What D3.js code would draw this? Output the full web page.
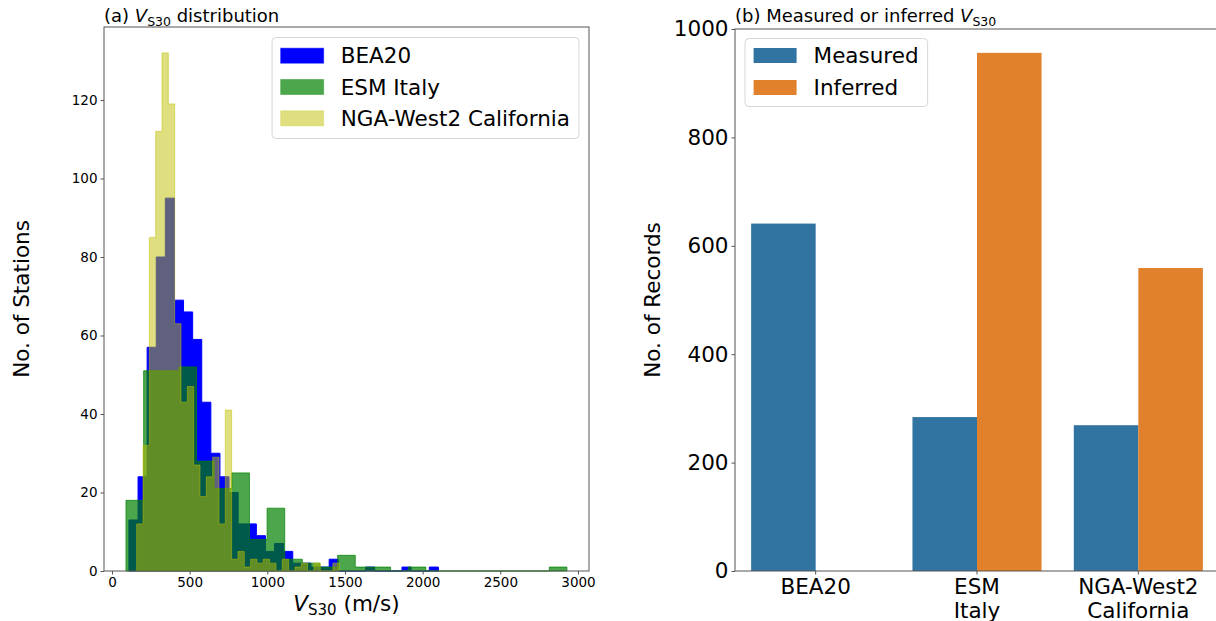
<!DOCTYPE html>
<html>
<head>
  <meta charset="utf-8">
  <script src="https://d3js.org/d3.v7.min.js"></script>
  <style>
    body { margin: 0; background: #fff; }
    svg text { font-family: "DejaVu Sans", sans-serif; fill: #000; }
  </style>
</head>
<body>
<div id="chart"></div>
<script>
  // (a) histograms: first bin edge, bin width, counts per bin
  var bea20Start = 109, bea20Width = 58.6;
  var bea20Counts = [13, 24, 57, 80, 95, 69, 66, 59, 43, 30, 24, 20, 12, 12, 9, 5, 7, 5,
                     2, 2, 1, 1, 3, 0, 0, 0, 1, 0, 0, 0, 1, 0, 0, 1];
  var esmStart = 90, esmWidth = 113.56;
  var esmCounts = [18, 51, 51, 52, 28, 21, 25, 8, 16, 3, 2, 1, 4, 1, 1, 0, 1,
                   0, 0, 0, 0, 0, 0, 0, 1];
  var ngaStart = 159, ngaWidth = 40.75;
  var ngaCounts = [12, 32, 85, 112, 132, 119, 63, 43, 47, 27, 19, 24, 29, 12, 41, 3,
                   5, 1, 3, 2, 3, 2, 0, 3, 0, 1, 2, 0, 2, 0, 0, 2];
  var histNames = ["BEA20", "ESM Italy", "NGA-West2 California"];
  var xTicksA = [0, 500, 1000, 1500, 2000, 2500, 3000];
  var yTicksA = [0, 20, 40, 60, 80, 100, 120];

  // (b) bar chart
  var groups = [["BEA20"], ["ESM", "Italy"], ["NGA-West2", "California"]];
  var measured = [641, 284, 269];
  var inferred = [0, 956, 559];
  var yTicksB = [0, 200, 400, 600, 800, 1000];

  var width = 1216, height = 621;
  var svg = d3.select("#chart").append("svg")
              .attr("width", width)
              .attr("height", height);

  var axisColor = "#555";
  var fmt = d3.format("d");

  // ---------- panel (a) ----------
  var A = {left: 104, right: 589, top: 27, bottom: 571};
  var xA = d3.scaleLinear().domain([-51.5, 3071]).range([A.left, A.right]);
  var yA = d3.scaleLinear().domain([0, 138.6]).range([A.bottom, A.top]);

  function stepPath(start, w, counts) {
    var p = d3.path();
    p.moveTo(xA(start), yA(0));
    counts.forEach(function(c, i) {
      p.lineTo(xA(start + i * w), yA(c));
      p.lineTo(xA(start + (i + 1) * w), yA(c));
    });
    p.lineTo(xA(start + counts.length * w), yA(0));
    p.closePath();
    return p.toString();
  }

  var histStyles = [
    {color: "#0000ff", alpha: 1.0},
    {color: "#008000", alpha: 0.7},
    {color: "#bfbf00", alpha: 0.5}
  ];
  var histData = [
    stepPath(bea20Start, bea20Width, bea20Counts),
    stepPath(esmStart, esmWidth, esmCounts),
    stepPath(ngaStart, ngaWidth, ngaCounts)
  ];

  var gA = svg.append("g");
  gA.selectAll("path.hist")
    .data(histData)
    .enter()
    .append("path")
    .attr("class", "hist")
    .attr("d", function(d) { return d; })
    .attr("fill", function(d, i) { return histStyles[i].color; })
    .attr("fill-opacity", function(d, i) { return histStyles[i].alpha; })
    .attr("stroke", function(d, i) { return histStyles[i].color; })
    .attr("stroke-opacity", function(d, i) { return histStyles[i].alpha; })
    .attr("stroke-width", 1);

  gA.append("rect")
    .attr("x", A.left).attr("y", A.top)
    .attr("width", A.right - A.left).attr("height", A.bottom - A.top)
    .attr("fill", "none").attr("stroke", axisColor).attr("stroke-width", 1);

  var xAxisA = d3.axisBottom(xA).tickValues(xTicksA).tickFormat(fmt).tickSize(3.5).tickPadding(3).tickSizeOuter(0);
  var yAxisA = d3.axisLeft(yA).tickValues(yTicksA).tickFormat(fmt).tickSize(3.5).tickPadding(3).tickSizeOuter(0);
  var gxA = gA.append("g").attr("transform", "translate(0," + A.bottom + ")").call(xAxisA);
  var gyA = gA.append("g").attr("transform", "translate(" + A.left + ",0)").call(yAxisA);
  [gxA, gyA].forEach(function(g) {
    g.select(".domain").remove();
    g.selectAll("line").attr("stroke", axisColor);
    g.selectAll("text").attr("font-size", "13.5px").attr("font-family", "DejaVu Sans").attr("fill", "#222");
  });

  // title (a)
  var tA = gA.append("text").attr("x", A.left).attr("y", 22).attr("font-size", "18px");
  tA.append("tspan").text("(a) ");
  tA.append("tspan").attr("font-style", "italic").text("V");
  tA.append("tspan").attr("font-size", "12.5px").attr("dy", 3.5).text("S30");
  tA.append("tspan").attr("dy", -3.5).text(" distribution");

  // x label
  var xl = gA.append("text").attr("x", (A.left + A.right) / 2).attr("y", 611)
             .attr("text-anchor", "middle").attr("font-size", "21.5px");
  xl.append("tspan").attr("font-style", "italic").text("V");
  xl.append("tspan").attr("font-size", "15px").attr("dy", 4).text("S30");
  xl.append("tspan").attr("dy", -4).text(" (m/s)");

  gA.append("text")
    .attr("transform", "translate(29," + ((A.top + A.bottom) / 2) + ") rotate(-90)")
    .attr("text-anchor", "middle")
    .attr("font-size", "21.5px")
    .text("No. of Stations");

  // legend (a), anchored upper right
  var legA = gA.append("g");
  var legABox = legA.append("rect");
  var legAText = [];
  histNames.forEach(function(name, i) {
    var t = legA.append("text").attr("font-size", "21.5px").attr("dominant-baseline", "central").text(name);
    legAText.push(t);
  });
  var maxW = d3.max(legAText, function(t) { return t.node().getComputedTextLength(); });
  var legARight = A.right - 10;
  var legAWidth = 8.6 + 43 + 17 + maxW + 9;
  var legALeft = legARight - legAWidth;
  legABox.attr("x", legALeft).attr("y", A.top + 10.5)
    .attr("width", legAWidth).attr("height", 101)
    .attr("rx", 4).attr("fill", "#fff").attr("fill-opacity", 0.8)
    .attr("stroke", "#ccc").attr("stroke-opacity", 0.8);
  histNames.forEach(function(name, i) {
    var cy = A.top + 28.7 + i * 31.3;
    legA.append("rect")
      .attr("x", legALeft + 8.6).attr("y", cy - 7.5)
      .attr("width", 43).attr("height", 15)
      .attr("fill", histStyles[i].color).attr("fill-opacity", histStyles[i].alpha)
      .attr("stroke", histStyles[i].color).attr("stroke-opacity", histStyles[i].alpha * 0.5);
    legAText[i].attr("x", legALeft + 8.6 + 43 + 17).attr("y", cy);
  });

  // ---------- panel (b) ----------
  var B = {left: 735, right: 1219, top: 29, bottom: 571};
  var xB = d3.scaleLinear().domain([-0.5, 2.5]).range([B.left, B.right]);
  var yB = d3.scaleLinear().domain([0, 1000]).range([B.bottom, B.top]);
  var barColors = ["#3274a1", "#e1812c"];
  var barNames = ["Measured", "Inferred"];

  var gB = svg.append("g");
  gB.selectAll("rect.measured")
    .data(measured)
    .enter()
    .append("rect")
    .attr("class", "measured")
    .attr("x", function(d, i) { return xB(i - 0.4); })
    .attr("width", function(d, i) { return xB(i) - xB(i - 0.4); })
    .attr("y", function(d) { return yB(d); })
    .attr("height", function(d) { return yB(0) - yB(d); })
    .attr("fill", barColors[0]);
  gB.selectAll("rect.inferred")
    .data(inferred)
    .enter()
    .append("rect")
    .attr("class", "inferred")
    .attr("x", function(d, i) { return xB(i); })
    .attr("width", function(d, i) { return xB(i + 0.4) - xB(i); })
    .attr("y", function(d) { return yB(d); })
    .attr("height", function(d) { return yB(0) - yB(d); })
    .attr("fill", barColors[1]);

  gB.append("rect")
    .attr("x", B.left).attr("y", B.top)
    .attr("width", B.right - B.left).attr("height", B.bottom - B.top)
    .attr("fill", "none").attr("stroke", axisColor).attr("stroke-width", 1);

  var yAxisB = d3.axisLeft(yB).tickValues(yTicksB).tickFormat(fmt).tickSize(3.5).tickPadding(3).tickSizeOuter(0);
  var gyB = gB.append("g").attr("transform", "translate(" + B.left + ",0)").call(yAxisB);
  gyB.select(".domain").remove();
  gyB.selectAll("line").attr("stroke", axisColor);
  gyB.selectAll("text").attr("font-size", "21.5px").attr("font-family", "DejaVu Sans").attr("fill", "#111");

  // x category labels (two lines)
  groups.forEach(function(lines, i) {
    gB.append("line")
      .attr("x1", xB(i)).attr("x2", xB(i))
      .attr("y1", B.bottom).attr("y2", B.bottom + 3.5)
      .attr("stroke", axisColor);
    var t = gB.append("text").attr("text-anchor", "middle").attr("font-size", "21.5px");
    lines.forEach(function(s, j) {
      t.append("tspan").attr("x", xB(i)).attr("y", 594 + j * 23.5).text(s);
    });
  });

  var tB = gB.append("text").attr("x", B.left).attr("y", 22).attr("font-size", "18px");
  tB.append("tspan").text("(b) Measured or inferred ");
  tB.append("tspan").attr("font-style", "italic").text("V");
  tB.append("tspan").attr("font-size", "12.5px").attr("dy", 3.5).text("S30");

  gB.append("text")
    .attr("transform", "translate(660," + ((B.top + B.bottom) / 2) + ") rotate(-90)")
    .attr("text-anchor", "middle")
    .attr("font-size", "21.5px")
    .text("No. of Records");

  // legend (b), upper left
  var legB = gB.append("g");
  var legBBox = legB.append("rect");
  var legBText = barNames.map(function(name) {
    return legB.append("text").attr("font-size", "21.5px").attr("dominant-baseline", "central").text(name);
  });
  var maxWB = d3.max(legBText, function(t) { return t.node().getComputedTextLength(); });
  var legBLeft = B.left + 10;
  var legBWidth = 8.6 + 43 + 17 + maxWB + 9;
  legBBox.attr("x", legBLeft).attr("y", B.top + 9.5)
    .attr("width", legBWidth).attr("height", 68)
    .attr("rx", 4).attr("fill", "#fff").attr("fill-opacity", 0.8)
    .attr("stroke", "#ccc").attr("stroke-opacity", 0.8);
  barNames.forEach(function(name, i) {
    var cy = B.top + 26.5 + i * 32;
    legB.append("rect")
      .attr("x", legBLeft + 8.6).attr("y", cy - 7.5)
      .attr("width", 43).attr("height", 15)
      .attr("fill", barColors[i]);
    legBText[i].attr("x", legBLeft + 8.6 + 43 + 17).attr("y", cy);
  });
</script>
</body>
</html>
